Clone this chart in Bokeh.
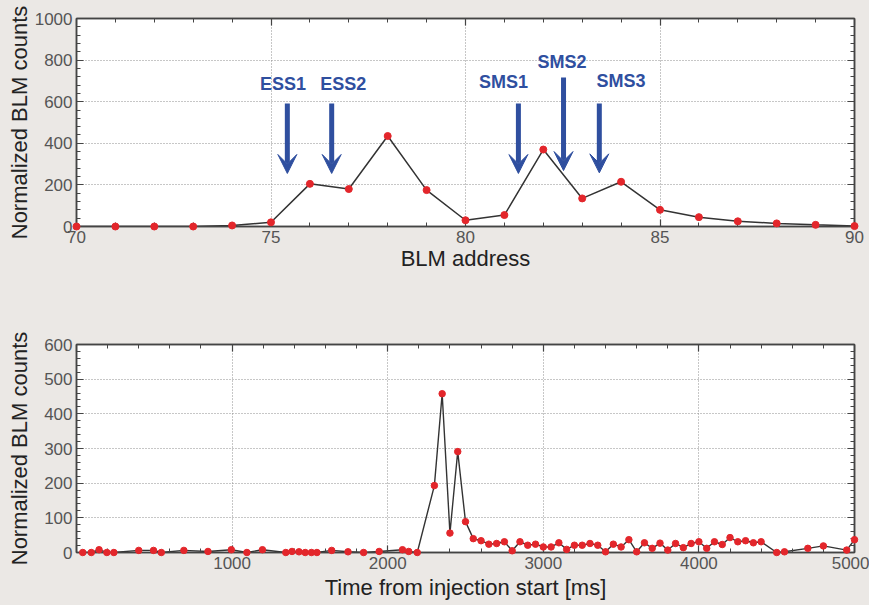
from bokeh.plotting import figure
from bokeh.layouts import column
from bokeh.models import (LinearAxis, Range1d, SingleIntervalTicker, Arrow,
                          VeeHead, CustomLabelingPolicy)
from bokeh.core.properties import value
from bokeh.embed import file_html
from bokeh.resources import INLINE

# ---- beam-loss profile along the ring (BLM address) ----
blm_address = list(range(70, 91))
blm_counts = [0, 0, 0, 0, 5, 20, 205, 180, 435, 175, 30, 55, 370, 135, 215,
              80, 45, 25, 15, 8, 2]

# element markers above the loss profile
marker_names = ["ESS1", "ESS2", "SMS1", "SMS2", "SMS3"]
marker_address = [75.42, 76.56, 81.36, 82.52, 83.44]

# ---- loss history at one monitor ----
time_ms = [40, 95, 145, 195, 240, 400, 495, 545, 690, 845, 995, 1095, 1195,
           1345, 1385, 1430, 1470, 1510, 1545, 1640, 1745, 1845, 1945, 2095,
           2135, 2190,
           2300, 2350, 2400, 2450, 2500, 2550, 2600, 2650, 2700, 2750, 2800,
           2850, 2900, 2950, 3000, 3050, 3100, 3150, 3200, 3250, 3300, 3350,
           3400, 3450, 3500, 3550, 3600, 3650, 3700, 3750, 3800, 3850, 3900,
           3950, 4000, 4050, 4100, 4150, 4200, 4250, 4300, 4350, 4400, 4500,
           4550, 4700, 4800, 4950, 5000]
time_counts = [0, 0, 8, 0, 0, 6, 6, 0, 6, 3, 8, 0, 8,
               0, 3, 2, 0, 0, 0, 6, 2, 0, 3, 8,
               3, 0,
               193, 458, 56, 291, 89, 40, 34, 24, 26, 31, 5,
               31, 21, 24, 16, 16, 28, 9, 21, 21, 26, 21,
               2, 24, 16, 37, 2, 28, 12, 27, 7, 26, 14,
               26, 31, 12, 31, 23, 43, 31, 34, 28, 31, 0,
               2, 12, 19, 7, 37]

BG = "#ebe8e5"
FONT = "Liberation Sans"
FRAME = "#444444"
TICK_TEXT = "#555555"
BLUE = "#2f4f9f"
RED = "#e3262b"
LINE = "#333333"


def style_axis(ax, show_labels=True):
    ax.axis_line_color = FRAME
    ax.axis_line_width = 1.5
    ax.major_tick_line_color = FRAME
    ax.minor_tick_line_color = FRAME
    ax.major_tick_line_width = 1.2
    ax.minor_tick_line_width = 1
    ax.major_tick_in = 7
    ax.major_tick_out = 0
    ax.minor_tick_in = 4
    ax.minor_tick_out = 0
    ax.major_label_text_font = FONT
    ax.major_label_text_color = TICK_TEXT
    ax.axis_label_text_font = FONT
    ax.axis_label_text_font_style = "normal"
    ax.axis_label_text_color = "#222222"
    ax.axis_label_text_font_size = "22px"
    if show_labels:
        ax.major_label_text_font_size = "17px"
        ax.major_label_standoff = 4
    else:
        # tick marks only: no labels are kept on the mirrored axes
        ax.major_label_policy = CustomLabelingPolicy(code="return new Set()")
        ax.major_label_text_font_size = "0px"
        ax.major_label_standoff = 0


def make_panel(height, border_top, border_bottom, x_rng, y_rng, x_tick, y_tick):
    p = figure(width=869, height=height, x_range=x_rng, y_range=y_rng,
               output_backend="svg", toolbar_location=None,
               min_border_left=76, min_border_right=15,
               min_border_top=border_top, min_border_bottom=border_bottom,
               background_fill_color="white", border_fill_color=BG,
               outline_line_color=FRAME, outline_line_width=1.5)
    bottom = p.below[0]
    left = p.left[0]
    bottom.ticker = x_tick
    left.ticker = y_tick
    style_axis(bottom)
    style_axis(left)
    top = LinearAxis(ticker=x_tick)
    right = LinearAxis(ticker=y_tick)
    style_axis(top, show_labels=False)
    style_axis(right, show_labels=False)
    p.add_layout(top, "above")
    p.add_layout(right, "right")
    p.grid.grid_line_color = "#8f8f8f"
    p.grid.grid_line_dash = "1 2"
    p.grid.grid_line_width = 1
    return p, bottom, left


# ---- upper panel ----
p1, p1_x, p1_y = make_panel(300, 18, 74, Range1d(70, 90), Range1d(0, 1000),
                            SingleIntervalTicker(interval=5, num_minor_ticks=5),
                            SingleIntervalTicker(interval=200, num_minor_ticks=5))
p1_x.axis_label = "BLM address"
p1_x.axis_label_standoff = 0
p1_y.axis_label = "Normalized BLM counts"
p1_y.axis_label_standoff = 0

p1.line(blm_address, blm_counts, line_color=LINE, line_width=1.5)
p1.scatter(blm_address, blm_counts, size=7, fill_color=RED, line_color=RED,
           level="overlay")

# arrows pointing at the elements
arrow_top = [591, 591, 591, 716, 591]
arrow_tip = [255, 255, 255, 269, 258]
label_x = [75.31, 76.86, 80.98, 82.48, 84.0]
label_y = [683, 683, 697, 791, 700]
for xa, yt, yb in zip(marker_address, arrow_top, arrow_tip):
    p1.add_layout(Arrow(end=VeeHead(size=19, fill_color=BLUE, line_color=BLUE,
                                    line_width=1),
                        x_start=xa, y_start=yt, x_end=xa, y_end=yb,
                        line_color=BLUE, line_width=5))
p1.text(label_x, label_y, text=marker_names, text_font=value(FONT),
        text_font_style="bold", text_font_size="18px", text_color=BLUE,
        text_align="center", text_baseline="middle")

# ---- lower panel ----
p2, p2_x, p2_y = make_panel(305, 44, 53, Range1d(0, 5000), Range1d(0, 600),
                            SingleIntervalTicker(interval=1000, num_minor_ticks=5),
                            SingleIntervalTicker(interval=100, num_minor_ticks=5))
p2_x.axis_label = "Time from injection start [ms]"
p2_x.axis_label_standoff = 3
p2_x.major_label_overrides = {0: ""}
p2_y.axis_label = "Normalized BLM counts"
p2_y.axis_label_standoff = 9

p2.line(time_ms, time_counts, line_color=LINE, line_width=1.4)
p2.scatter(time_ms, time_counts, size=6.5, fill_color=RED, line_color=RED,
           level="overlay")

layout = column(p1, p2, spacing=0, styles={"background-color": BG})
open("out.html", "w").write(file_html(layout, INLINE))
